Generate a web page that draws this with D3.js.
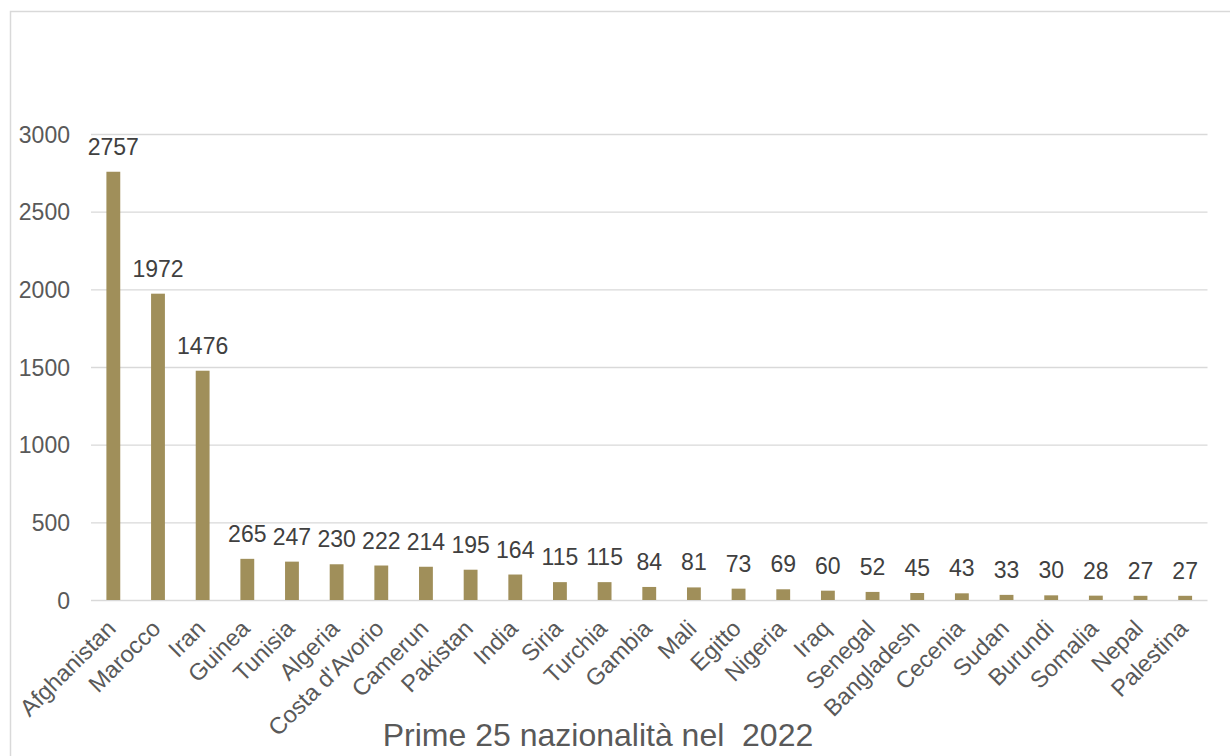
<!DOCTYPE html>
<html><head><meta charset="utf-8">
<script src="https://cdn.jsdelivr.net/npm/d3@7"></script>
<style>body{margin:0;background:#fff;} svg{display:block;font-family:Arial,"Liberation Sans",sans-serif;}</style>
</head><body><svg id="c" width="1230" height="756"></svg>
<script>
const categories = ["Afghanistan","Marocco","Iran","Guinea","Tunisia","Algeria","Costa d'Avorio","Camerun","Pakistan","India","Siria","Turchia","Gambia","Mali","Egitto","Nigeria","Iraq","Senegal","Bangladesh","Cecenia","Sudan","Burundi","Somalia","Nepal","Palestina"];
const values = [2757,1972,1476,265,247,230,222,214,195,164,115,115,84,81,73,69,60,52,45,43,33,30,28,27,27];
const yTicks = [0,500,1000,1500,2000,2500,3000];
const title = "Prime 25 nazionalità nel  2022";

const svg = d3.select("#c");
const mLeft = 91, mRight = 1207.5, mTop = 134, mBottom = 600;

svg.append("rect").attr("x",10.5).attr("y",11.5).attr("width",1250).attr("height",800)
  .attr("fill","none").attr("stroke","#d9d9d9").attr("stroke-width",1.5);

const x = d3.scaleBand().domain(categories).range([mLeft,mRight]).paddingInner(0.69).paddingOuter(0.345);
const y = d3.scaleLinear().domain([0,3000]).range([mBottom,mTop]);

const yAxis = svg.append("g").attr("transform",`translate(${mLeft},0)`)
  .call(d3.axisLeft(y).tickValues(yTicks).tickSize(-(mRight-mLeft)).tickFormat(d3.format("d")));
yAxis.select(".domain").remove();
yAxis.selectAll(".tick line").attr("stroke","#d9d9d9").attr("stroke-width",1.3);
yAxis.selectAll(".tick text").attr("x",-21).attr("fill","#595959").style("font-size","23px").attr("dy","0.35em");

svg.append("g").selectAll("rect").data(values).join("rect")
  .attr("x",(d,i)=>x(categories[i])).attr("width",x.bandwidth())
  .attr("y",d=>y(d)).attr("height",d=>mBottom-y(d)).attr("fill","#a08f5a");

svg.append("g").selectAll("text").data(values).join("text")
  .attr("x",(d,i)=>x(categories[i])+x.bandwidth()/2).attr("y",d=>y(d)-17)
  .attr("text-anchor","middle").attr("fill","#404040").style("font-size","23px").text(d=>d);

const xAxis = svg.append("g").attr("transform",`translate(0,${mBottom})`)
  .call(d3.axisBottom(x).tickSize(0));
xAxis.select(".domain").remove();
xAxis.selectAll(".tick text")
  .attr("fill","#595959").style("font-size","23.5px")
  .attr("text-anchor","end").attr("dy","0").attr("y",0)
  .attr("transform","translate(4,30) rotate(-45)");

svg.append("text").attr("x",598).attr("y",746).attr("text-anchor","middle")
  .attr("fill","#595959").style("font-size","32px").style("white-space","pre").text(title);
</script></body></html>
